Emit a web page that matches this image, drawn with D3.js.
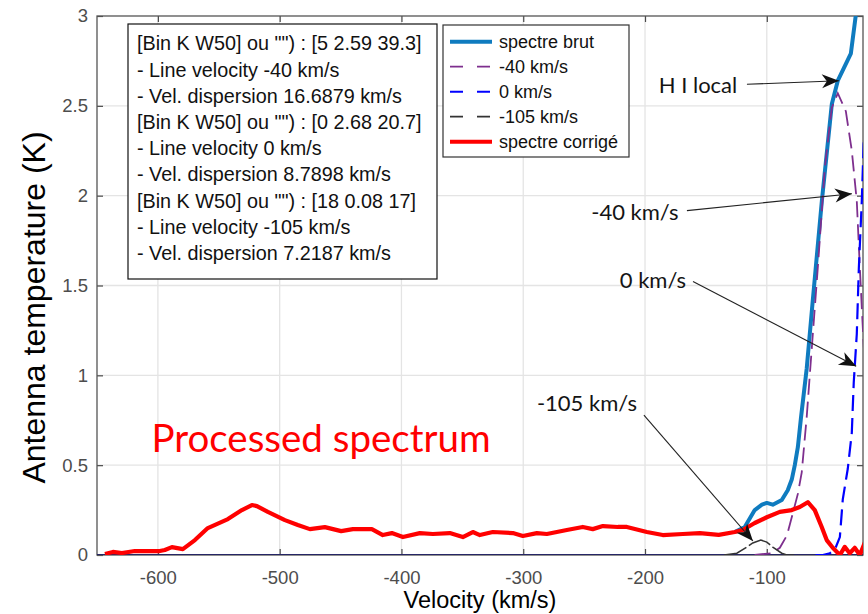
<!DOCTYPE html>
<html>
<head>
<meta charset="utf-8">
<script src="https://cdn.jsdelivr.net/npm/d3@7/dist/d3.min.js"></script>
<style>
  body { margin: 0; background: #fff; }
  svg { display: block; }
</style>
</head>
<body>
<svg id="chart" width="868" height="614"></svg>
<script>
// Axis ticks
const velocityTicks = [-600, -500, -400, -300, -200, -100];
const temperatureTicks = [0, 0.5, 1, 1.5, 2, 2.5, 3];
const velocityDomain = [-650, -21];
const temperatureDomain = [0, 3];

// Corrected spectrum: [velocity km/s, antenna temperature K]
const spectreCorrige = [
  [-643.5, 0.006], [-636.9, 0.017], [-629.6, 0.011], [-618.9, 0.022], [-608.2, 0.022],
  [-598.4, 0.022], [-594.3, 0.028], [-588.5, 0.044], [-579.5, 0.033], [-569.6, 0.083],
  [-559.0, 0.150], [-542.5, 0.200], [-531.0, 0.250], [-522.8, 0.278], [-518.7, 0.272],
  [-509.7, 0.240], [-495.7, 0.194], [-485.1, 0.167], [-475.2, 0.144], [-462.9, 0.155],
  [-449.5, 0.133], [-439.9, 0.144], [-424.3, 0.144], [-415.3, 0.111], [-407.9, 0.122],
  [-398.8, 0.100], [-384.9, 0.122], [-374.2, 0.117], [-360.3, 0.122], [-349.6, 0.100],
  [-341.4, 0.128], [-335.6, 0.111], [-325.0, 0.128], [-308.5, 0.122], [-300.3, 0.106],
  [-288.8, 0.122], [-280.6, 0.117], [-264.2, 0.139], [-251.1, 0.156], [-242.9, 0.144],
  [-234.6, 0.161], [-222.3, 0.156], [-214.9, 0.156], [-198.5, 0.128], [-185.4, 0.111],
  [-168.9, 0.117], [-155.0, 0.122], [-139.5, 0.112], [-126.3, 0.128], [-119.7, 0.139],
  [-109.9, 0.178], [-100.0, 0.210], [-89.3, 0.240], [-79.5, 0.250], [-72.9, 0.267],
  [-66.3, 0.294], [-60.6, 0.250], [-54.9, 0.156], [-50.8, 0.083], [-45.8, 0.040],
  [-40.0, 0.000], [-36.0, 0.045], [-31.9, 0.010], [-27.8, 0.040], [-23.6, 0.000],
  [-19.5, 0.070]
];

// Raw spectrum (where it rises above the corrected one)
const spectreBrut = [
  [-126.3, 0.128], [-118.1, 0.156], [-109.9, 0.250], [-104.0, 0.280], [-100.0, 0.290],
  [-95.1, 0.280], [-87.7, 0.306], [-82.8, 0.360], [-79.5, 0.420], [-77.0, 0.500],
  [-74.5, 0.600], [-72.0, 0.760], [-67.2, 1.040], [-62.2, 1.420], [-54.8, 1.970],
  [-46.6, 2.510], [-41.7, 2.640], [-31.0, 2.790], [-27.0, 3.000], [-24.0, 3.300]
];

// Fitted Gaussian components
const gauss40 = [
  [-110.0, 0.000], [-95.9, 0.010], [-89.3, 0.040], [-83.4, 0.110], [-78.7, 0.230],
  [-74.5, 0.340], [-71.3, 0.460], [-67.2, 0.770], [-62.2, 1.230], [-58.1, 1.600],
  [-52.3, 2.160], [-46.6, 2.490], [-41.7, 2.570], [-35.1, 2.470], [-30.2, 2.250],
  [-26.1, 1.970], [-23.6, 1.600], [-21.2, 1.270], [-18.7, 0.950]
];
const gauss0 = [
  [-60.0, 0.000], [-54.0, 0.000], [-48.2, 0.010], [-44.1, 0.030], [-40.0, 0.100],
  [-37.6, 0.310], [-33.5, 0.480], [-30.2, 0.680], [-28.6, 0.960], [-26.1, 1.230],
  [-24.4, 1.600], [-22.0, 1.970], [-20.5, 2.280], [-18.0, 2.550]
];
const gauss105 = [
  [-135.0, 0.000], [-124.6, 0.010], [-116.4, 0.044], [-111.5, 0.067], [-104.9, 0.083],
  [-100.0, 0.072], [-95.1, 0.044], [-87.7, 0.010], [-83.6, 0.000], [-75.0, 0.000]
];

// Fit summary text
const fitLines = [
  '[Bin K W50] ou "") : [5 2.59 39.3]',
  '- Line velocity -40 km/s',
  '- Vel. dispersion 16.6879 km/s',
  '[Bin K W50] ou "") : [0 2.68 20.7]',
  '- Line velocity 0 km/s',
  '- Vel. dispersion 8.7898 km/s',
  '[Bin K W50] ou "") : [18 0.08 17]',
  '- Line velocity -105 km/s',
  '- Vel. dispersion 7.2187 km/s'
];

// Callouts: label position and arrow (from -> to) in data units
const callouts = [
  { text: "H I local", at: [-156.5, 2.617], from: [-116.3, 2.620], to: [-40.8, 2.640] },
  { text: "-40 km/s",  at: [-208.3, 1.906], from: [-165.6, 1.917], to: [-30.1, 2.011] },
  { text: "0 km/s",    at: [-193.5, 1.530], from: [-160.6, 1.522], to: [-26.6, 1.050] },
  { text: "-105 km/s", at: [-247.7, 0.845], from: [-200.9, 0.778], to: [-111.4, 0.078] }
];

const legendItems = [
  { label: "spectre brut",    color: "#0f7bbf", width: 4,   dash: null },
  { label: "-40 km/s",        color: "#7e2f8e", width: 1.8, dash: "13,14" },
  { label: "0 km/s",          color: "#0000ff", width: 2,   dash: "13,14" },
  { label: "-105 km/s",       color: "#333333", width: 1.8, dash: "13,14" },
  { label: "spectre corrigé", color: "#ff0000", width: 4,   dash: null }
];

const svg = d3.select("#chart");
const plot = { left: 97, right: 863, top: 16, bottom: 555 };

const x = d3.scaleLinear().domain(velocityDomain).range([plot.left, plot.right]);
const y = d3.scaleLinear().domain(temperatureDomain).range([plot.bottom, plot.top]);

// Grid
const grid = svg.append("g").attr("stroke", "#e4e4e4").attr("stroke-width", 1.3);
grid.selectAll(".gx").data(velocityTicks).join("line")
  .attr("x1", d => x(d)).attr("x2", d => x(d))
  .attr("y1", plot.top).attr("y2", plot.bottom);
grid.selectAll(".gy").data(temperatureTicks.filter(d => d > 0 && d < 3)).join("line")
  .attr("x1", plot.left).attr("x2", plot.right)
  .attr("y1", d => y(d)).attr("y2", d => y(d));

// Axes with inward ticks
const tickFont = "'Liberation Sans', Arial, sans-serif";
const xAxis = svg.append("g").attr("transform", `translate(0,${plot.bottom})`)
  .call(d3.axisBottom(x).tickValues(velocityTicks).tickFormat(d => String(d))
    .tickSizeInner(-6).tickSizeOuter(0).tickPadding(16));
const xAxisTop = svg.append("g").attr("transform", `translate(0,${plot.top})`)
  .call(d3.axisTop(x).tickValues(velocityTicks).tickFormat("")
    .tickSizeInner(-6).tickSizeOuter(0));
const yAxis = svg.append("g").attr("transform", `translate(${plot.left},0)`)
  .call(d3.axisLeft(y).tickValues(temperatureTicks).tickFormat(d => String(d))
    .tickSizeInner(-6).tickSizeOuter(0).tickPadding(9));
const yAxisRight = svg.append("g").attr("transform", `translate(${plot.right},0)`)
  .call(d3.axisRight(y).tickValues(temperatureTicks).tickFormat("")
    .tickSizeInner(-6).tickSizeOuter(0));
[xAxis, xAxisTop, yAxis, yAxisRight].forEach(g => {
  g.select(".domain").remove();
  g.selectAll(".tick line").attr("stroke", "#4a4a4a").attr("stroke-width", 1.2);
  g.selectAll("text").attr("fill", "#4d4d4d")
    .style("font-family", tickFont).style("font-size", "18.5px");
});

// Frame
svg.append("rect")
  .attr("x", plot.left).attr("y", plot.top)
  .attr("width", plot.right - plot.left).attr("height", plot.bottom - plot.top)
  .attr("fill", "none").attr("stroke", "#555").attr("stroke-width", 1.3);

// Axis titles
svg.append("text")
  .attr("transform", `translate(45,${(plot.top + plot.bottom) / 2 + 22}) rotate(-90)`)
  .attr("text-anchor", "middle")
  .style("font-family", tickFont).style("font-size", "32px").attr("fill", "#000")
  .text("Antenna temperature (K)");
svg.append("text")
  .attr("x", (plot.left + plot.right) / 2 + 0).attr("y", 608)
  .attr("text-anchor", "middle")
  .style("font-family", tickFont).style("font-size", "23.5px").attr("fill", "#000")
  .text("Velocity (km/s)");

// Curves, clipped to the axes box
svg.append("clipPath").attr("id", "plot-clip").append("rect")
  .attr("x", plot.left).attr("y", plot.top)
  .attr("width", plot.right - plot.left).attr("height", plot.bottom - plot.top);
const curves = svg.append("g").attr("clip-path", "url(#plot-clip)");
const line = d3.line().x(d => x(d[0])).y(d => y(d[1]));

// zero level shared by the fitted components
curves.append("path")
  .datum([[velocityDomain[0], 0], [velocityDomain[1], 0]])
  .attr("d", line).attr("fill", "none")
  .attr("stroke", "#262666").attr("stroke-width", 2.2);

curves.append("path").datum(spectreBrut).attr("d", line)
  .attr("fill", "none").attr("stroke", "#0f7bbf").attr("stroke-width", 4)
  .attr("stroke-linejoin", "round");
curves.append("path").datum(gauss40).attr("d", line)
  .attr("fill", "none").attr("stroke", "#7e2f8e").attr("stroke-width", 1.8)
  .attr("stroke-dasharray", "16,7");
curves.append("path").datum(gauss0).attr("d", line)
  .attr("fill", "none").attr("stroke", "#0000ff").attr("stroke-width", 2.2)
  .attr("stroke-dasharray", "16,7");
curves.append("path").datum(gauss105).attr("d", line)
  .attr("fill", "none").attr("stroke", "#333").attr("stroke-width", 1.5)
  .attr("stroke-dasharray", "24,3");
curves.append("path").datum(spectreCorrige).attr("d", line)
  .attr("fill", "none").attr("stroke", "#ff0000").attr("stroke-width", 4.2)
  .attr("stroke-linejoin", "round");

// Fit summary box
const box = svg.append("g");
box.append("rect").attr("x", 128).attr("y", 24).attr("width", 309).attr("height", 255)
  .attr("fill", "#fff").attr("stroke", "#111").attr("stroke-width", 1.2);
box.selectAll("text").data(fitLines).join("text")
  .attr("x", 137).attr("y", (d, i) => 43.5 + i * 26.2)
  .attr("dy", "0.35em")
  .style("font-family", tickFont).style("font-size", "19.8px").attr("fill", "#111")
  .text(d => d);

// Legend
const legend = svg.append("g");
legend.append("rect").attr("x", 443).attr("y", 25).attr("width", 186).attr("height", 132)
  .attr("fill", "#fff").attr("stroke", "#333").attr("stroke-width", 1.2);
const rows = legend.selectAll(".row").data(legendItems).join("g")
  .attr("transform", (d, i) => `translate(0,${41.7 + i * 25})`);
rows.append("line").attr("x1", 450).attr("x2", 492).attr("y1", 0).attr("y2", 0)
  .attr("stroke", d => d.color).attr("stroke-width", d => d.width)
  .attr("stroke-dasharray", d => d.dash);
rows.append("text").attr("x", 499).attr("dy", "0.35em")
  .style("font-family", tickFont).style("font-size", "18px").attr("fill", "#111")
  .text(d => d.label);

// Callout arrows
svg.append("defs").append("marker")
  .attr("id", "arrowhead").attr("viewBox", "-18 -8 20 16")
  .attr("refX", 0).attr("refY", 0)
  .attr("markerWidth", 20).attr("markerHeight", 16)
  .attr("markerUnits", "userSpaceOnUse").attr("orient", "auto")
  .append("path").attr("d", "M0,0 L-17,-7 L-12,0 L-17,7 Z").attr("fill", "#111");

const calloutFont = "Lato, 'Open Sans', sans-serif";
const cg = svg.append("g");
callouts.forEach(c => {
  cg.append("line")
    .attr("x1", x(c.from[0])).attr("y1", y(c.from[1]))
    .attr("x2", x(c.to[0])).attr("y2", y(c.to[1]))
    .attr("stroke", "#222").attr("stroke-width", 1.1)
    .attr("marker-end", "url(#arrowhead)");
  cg.append("text")
    .attr("x", x(c.at[0])).attr("y", y(c.at[1])).attr("dy", "0.35em")
    .attr("text-anchor", "middle")
    .style("font-family", calloutFont).style("font-size", "22px").attr("fill", "#141414")
    .text(c.text);
});

// Big red caption
svg.append("text")
  .attr("x", x(-466)).attr("y", y(0.65)).attr("dy", "0.35em")
  .attr("text-anchor", "middle")
  .style("font-family", calloutFont).style("font-size", "38.5px").attr("fill", "#ff0000")
  .text("Processed spectrum");
</script>
</body>
</html>
